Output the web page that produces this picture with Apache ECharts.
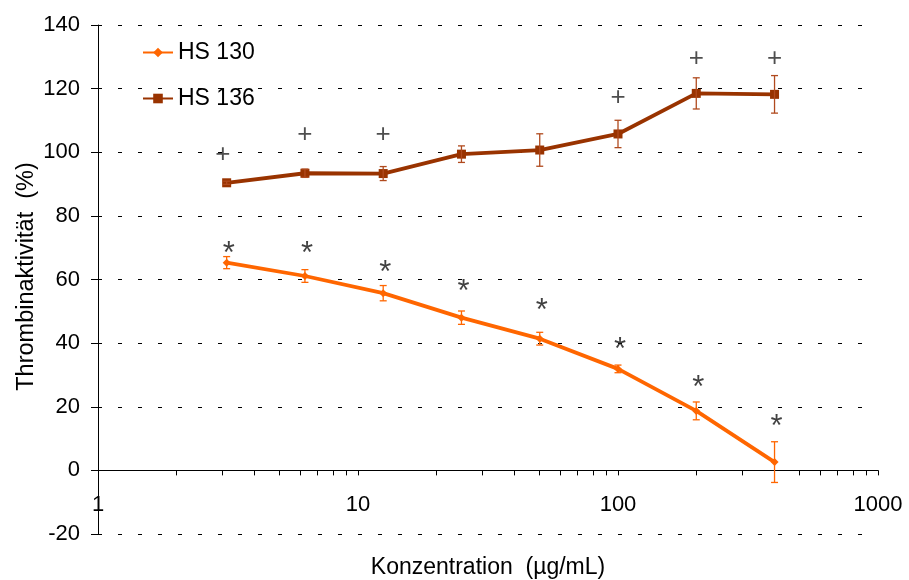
<!DOCTYPE html>
<html>
<head>
<meta charset="utf-8">
<script src="https://cdn.jsdelivr.net/npm/echarts@6/dist/echarts.min.js"></script>
<style>
html,body{margin:0;padding:0;background:#fff;}
#c{width:909px;height:580px;}
</style>
</head>
<body>
<div id="c"></div>
<script>
// ---- data ----
var conc = [3.125, 6.25, 12.5, 25, 50, 100, 200, 400];
var hs130 = [65.3, 61.1, 55.7, 48.0, 41.4, 31.9, 18.7, 2.6];
var hs130Err = [1.9, 2.0, 2.4, 2.1, 2.0, 1.2, 2.8, 6.4];
var hs136 = [90.4, 93.4, 93.3, 99.4, 100.7, 105.75, 118.5, 118.2];
var hs136Err = [0.5, 1.3, 2.2, 2.6, 5.1, 4.3, 4.9, 5.9];
var starX = [3.125, 6.25, 12.5, 25, 50, 100, 200, 400];
var starY = [70.2, 70.0, 64.2, 58.2, 52.3, 40.0, 28.1, 15.8];
var plusX = [3.02, 6.25, 12.5, 100, 200, 400];
var plusY = [99.1, 105.4, 105.6, 117.2, 129.5, 129.5];
var xTickValues = [1,2,3,4,5,6,7,8,9,10,20,30,40,50,60,70,80,90,100,200,300,400,500,600,700,800,900,1000];
var xLabelValues = [1, 10, 100, 1000];
var seriesNames = ['HS 130', 'HS 136'];

var FONT = 'Liberation Sans, Arial, sans-serif';
var c130 = '#FF6600', c136 = '#993300';

function pairs(xs, ys) { return xs.map(function (x, i) { return [x, ys[i]]; }); }
function errData(xs, ys, es) { return xs.map(function (x, i) { return [x, ys[i] - es[i], ys[i] + es[i]]; }); }

function errRender(color) {
  return function (params, api) {
    var x = api.value(0);
    var lo = api.coord([x, api.value(1)]);
    var hi = api.coord([x, api.value(2)]);
    var w = 3.5;
    var st = { stroke: color, lineWidth: 1.3 };
    return {
      type: 'group',
      children: [
        { type: 'line', shape: { x1: lo[0], y1: lo[1], x2: hi[0], y2: hi[1] }, style: st },
        { type: 'line', shape: { x1: lo[0] - w, y1: lo[1], x2: lo[0] + w, y2: lo[1] }, style: st },
        { type: 'line', shape: { x1: hi[0] - w, y1: hi[1], x2: hi[0] + w, y2: hi[1] }, style: st }
      ]
    };
  };
}

var chart = echarts.init(document.getElementById('c'), null, { renderer: 'canvas' });
chart.setOption({
  animation: false,
  backgroundColor: '#fff',
  textStyle: { fontFamily: FONT },
  grid: { left: 98, right: 31, top: 25, bottom: 46, containLabel: false, outerBoundsMode: 'none' },
  legend: {
    orient: 'vertical', left: 142, top: 41, padding: 0, itemGap: 23, itemWidth: 30, itemHeight: 12,
    data: seriesNames,
    textStyle: { fontFamily: FONT, fontSize: 23, color: '#000' }
  },
  xAxis: {
    type: 'log', logBase: 10, min: 1, max: 1000,
    name: 'Konzentration  (µg/mL)', nameLocation: 'middle', nameGap: 22,
    nameTextStyle: { fontFamily: FONT, fontSize: 23, color: '#000' },
    axisLine: { onZero: true, lineStyle: { color: '#000', width: 1 } },
    axisTick: { show: true, length: 5, customValues: xTickValues, lineStyle: { color: '#000' } },
    axisLabel: { customValues: xLabelValues, margin: -40, fontFamily: FONT, fontSize: 22, color: '#000',
      formatter: function (v) { return String(Math.round(v)); } },
    splitLine: { show: false },
    minorTick: { show: false }
  },
  yAxis: {
    type: 'value', min: -20, max: 140, interval: 20,
    name: 'Thrombinaktivität  (%)', nameLocation: 'middle', nameGap: 59, nameMoveOverlap: false,
    nameTextStyle: { fontFamily: FONT, fontSize: 23.5, color: '#000', padding: [0, 0, 0, 6] },
    axisLine: { show: true, onZero: false, lineStyle: { color: '#000', width: 1 } },
    axisTick: { show: true, length: 7, lineStyle: { color: '#000' } },
    axisLabel: { margin: 18, fontFamily: FONT, fontSize: 22, color: '#000' },
    splitLine: { show: true, lineStyle: { color: '#000', width: 1, type: [4, 16] } }
  },
  series: [
    {
      name: 'HS 130', type: 'line', data: pairs(conc, hs130),
      symbol: 'diamond', symbolSize: 8, color: c130,
      lineStyle: { width: 3.8, color: c130 }, itemStyle: { color: c130 }, z: 3
    },
    {
      name: 'HS 136', type: 'line', data: pairs(conc, hs136),
      symbol: 'rect', symbolSize: 9, color: c136,
      lineStyle: { width: 3.8, color: c136 }, itemStyle: { color: c136 }, z: 3
    },
    {
      type: 'custom', name: 'err130', data: errData(conc, hs130, hs130Err),
      renderItem: errRender(c130), z: 4, silent: true
    },
    {
      type: 'custom', name: 'err136', data: errData(conc, hs136, hs136Err),
      renderItem: errRender('#B04A1E'), z: 4, silent: true
    },
    {
      type: 'scatter', name: 'stars', data: pairs(starX, starY), symbolSize: 0, silent: true,
      label: { show: true, position: 'inside', formatter: '*', offset: [2, 7],
        fontFamily: FONT, fontSize: 31, color: '#111' }
    },
    {
      type: 'scatter', name: 'plus', data: pairs(plusX, plusY), symbolSize: 0, silent: true,
      label: { show: true, position: 'inside', formatter: '+', offset: [0, 0],
        fontFamily: FONT, fontSize: 26, color: '#222' }
    }
  ]
});
</script>
</body>
</html>
